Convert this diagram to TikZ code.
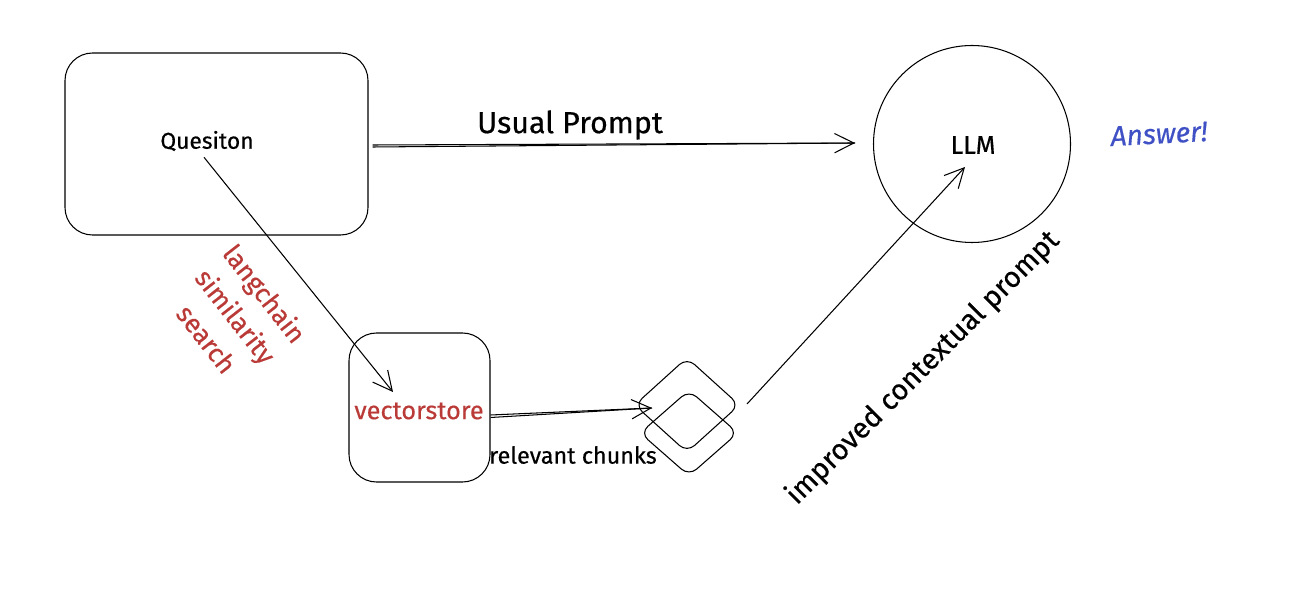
\documentclass[tikz,border=0pt]{standalone}
\usepackage{fontspec}
\setmainfont[FakeBold=0.4]{Fira Sans}
\usetikzlibrary{arrows.meta}
\usetikzlibrary{shapes.geometric}
\definecolor{sketchred}{HTML}{B93A37}
\definecolor{sketchblue}{HTML}{3F51C4}
\tikzset{sketchbox/.style={draw,rounded corners=.55cm,line width=.6pt,inner sep=0},
 chunk/.style={draw,diamond,rounded corners=.2cm,line width=.6pt,inner sep=0},
 arrowline/.style={line width=.6pt,-{Straight Barb[length=11pt,width=11pt]}},
 }

\begin{document}
\begin{tikzpicture}
        \useasboundingbox (0,0) rectangle (25.84,11.92);
        \node[sketchbox, minimum width=6.06cm, minimum height=3.64cm] (question box) at (4.33, 9.04) {};
        \node[font=\fontsize{13}{15}\selectfont] (question) at (4.14, 9.1) {Quesiton};
        \node[draw, circle, line width=.6pt, minimum size=3.94cm] (llm circle) at (19.44, 9.04) {};
        \node[font=\fontsize{14.5}{16}\selectfont] (llm) at (19.46, 9.02) {LLM};
        \node[sketchbox, minimum width=2.82cm, minimum height=2.98cm] (store box) at (8.39, 3.77) {};
        \node[font=\fontsize{14.4}{16}\selectfont, text=sketchred] (store) at (8.38, 3.7) {vectorstore};
        \node[chunk, minimum width=2.1cm, minimum height=1.9cm] (chunk top) at (13.74, 3.82) {};
        \node[chunk, minimum width=1.96cm, minimum height=1.72cm] (chunk bottom) at (13.78, 3.26) {};
        \node[font=\fontsize{17.3}{20}\selectfont] (usual) at (11.4, 9.42) {Usual Prompt};
        \node[font=\fontsize{13.3}{15}\selectfont] (relevant) at (11.46, 2.82) {relevant chunks};
        \node[font=\fontsize{16}{18}\selectfont, text=sketchblue, rotate=3] (answer) at (23.18, 9.24) {\itshape Answer!};
        \node[font=\fontsize{16.4}{18}\selectfont, rotate=45] (improved) at (18.46, 4.56) {improved contextual prompt};
        \node[font=\fontsize{15}{21}\selectfont, text=sketchred, rotate=-52, align=center] (search) at (4.72, 5.6) {langchain\\similarity\\search};
        \coordinate (store in) at (7.86, 4.08);
        \coordinate (usual end) at (17.1, 9.06);
        \coordinate (store end) at (13.04, 3.76);
        \coordinate (chunk out) at (14.94, 3.84);
        \coordinate (llm in) at (19.3, 8.58);
        \draw[arrowline] ([xshift=-.06cm]question.south) -- (store in);
        \draw[arrowline] (question box.east) ++(.08, -.06) coordinate (usual start) -- (usual end);
        \draw[line width=.6pt] ([yshift=.04cm]usual start) -- (usual end);
        \draw[arrowline] (store box.east) ++(0, -.2) coordinate (store start) -- (store end);
        \draw[line width=.6pt] ([yshift=.05cm]store start) -- (store end);
        \draw[arrowline] (chunk out) -- (llm in);
    \end{tikzpicture}
\end{document}
